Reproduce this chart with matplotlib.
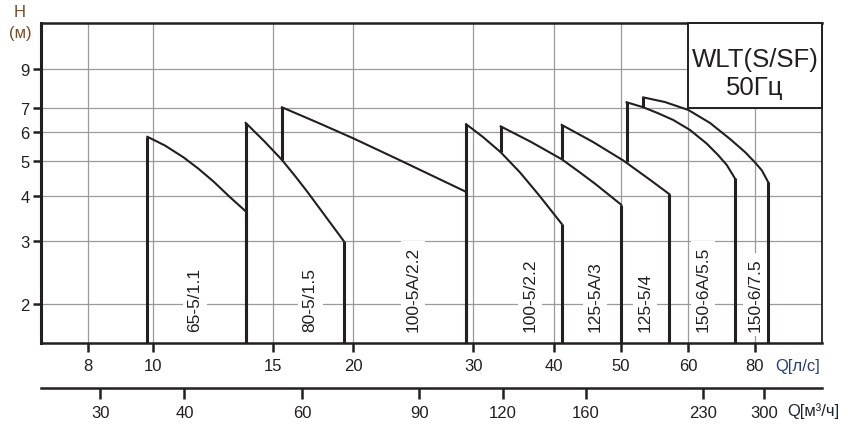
import matplotlib
matplotlib.use("Agg")
import matplotlib.pyplot as plt
import numpy as np
from matplotlib.patches import Rectangle

plt.rcParams['font.family'] = ['Liberation Sans', 'DejaVu Sans']

INK = '#231f20'
GRID = '#9a9a9a'

# printed Q axis is not a clean log scale: tick values and their spacing
q_ticks = [8, 10, 15, 20, 30, 40, 50, 60, 80]
q_tick_pos = [88, 153, 273, 353, 473, 554, 621, 688, 755]
m3h_ticks = [30, 40, 60, 90, 120, 160, 230, 300]
h_ticks = [2, 3, 4, 5, 6, 7, 9]

# pump curves, Q in l/s, H in m
names = ['65-5/1.1', '80-5/1.5', '100-5A/2.2', '100-5/2.2',
         '125-5A/3', '125-5/4', '150-6A/5.5', '150-6/7.5']
curve_q = [
    [9.80, 10.10, 10.41, 11.08, 11.64, 12.26, 12.93, 13.67],
    [13.67, 14.55, 15.48, 16.24, 16.93, 17.97, 19.32],
    [15.48, 17.58, 20.02, 23.31, 29.3],
    [29.3, 31.08, 33.1, 35.45, 37.85, 41.04],
    [33.1, 36.87, 41.04, 43.35, 45.85, 50.0],
    [41.04, 45.55, 50.31, 54.1, 57.03],
    [50.77, 53.13, 55.29, 57.65, 60.52, 65.04, 68.26, 70.87, 73.4],
    [53.13, 56.36, 60.1, 65.95, 71.86, 76.64, 80.0, 82.44, 84.7],
]
curve_h = [
    [5.83, 5.67, 5.51, 5.11, 4.76, 4.38, 3.98, 3.62],
    [6.37, 5.67, 5.03, 4.53, 4.12, 3.57, 3.00],
    [7.04, 6.39, 5.77, 5.04, 4.10],
    [6.32, 5.82, 5.28, 4.64, 4.03, 3.34],
    [6.23, 5.64, 5.05, 4.68, 4.32, 3.78],
    [6.29, 5.64, 5.01, 4.43, 4.04],
    [7.27, 7.04, 6.78, 6.49, 6.09, 5.58, 5.19, 4.87, 4.47],
    [7.50, 7.28, 6.92, 6.37, 5.75, 5.29, 4.95, 4.70, 4.36],
]
# lower end of the left vertical (None = down to the axis)
start_floor = [None, None, 5.03, None, 5.28, 5.05, 4.95, 7.04]
label_q = [11.52, 17.14, 24.49, 36.74, 45.85, 53.38, 64.0, 80.0]

xmin, xmax = 6.8, 106.7
ymin, ymax = 1.56, 12.07
label_h = 1.68

lq = np.log10(q_ticks)
pk = np.array(q_tick_pos, float)
s_lo = (pk[1] - pk[0]) / (lq[1] - lq[0])
s_hi = (pk[-1] - pk[-2]) / (lq[-1] - lq[-2])


def fwd(q):
    x = np.log10(np.clip(np.asarray(q, float), 1e-9, None))
    p = np.interp(x, lq, pk)
    p = np.where(x < lq[0], pk[0] + (x - lq[0]) * s_lo, p)
    p = np.where(x > lq[-1], pk[-1] + (x - lq[-1]) * s_hi, p)
    return p


def inv(p):
    p = np.asarray(p, float)
    x = np.interp(p, pk, lq)
    x = np.where(p < pk[0], lq[0] + (p - pk[0]) / s_lo, x)
    x = np.where(p > pk[-1], lq[-1] + (p - pk[-1]) / s_hi, x)
    return 10 ** x


fig = plt.figure(figsize=(8.48, 4.31), dpi=100)
ax = fig.add_axes([0.0483, 0.2019, 0.9210, 0.7425])
ax.set_xscale('function', functions=(fwd, inv))
ax.set_yscale('log')
ax.set_xlim(xmin, xmax)
ax.set_ylim(ymin, ymax)

ax.set_xticks(q_ticks)
ax.set_xticklabels([str(v) for v in q_ticks])
ax.set_yticks(h_ticks)
ax.set_yticklabels([str(v) for v in h_ticks])
ax.yaxis.set_minor_locator(matplotlib.ticker.NullLocator())
ax.xaxis.set_minor_locator(matplotlib.ticker.NullLocator())

ax.set_axisbelow(True)
ax.grid(True, color=GRID, lw=0.9)

ax.tick_params(axis='x', direction='out', length=6.5, width=1.8, pad=4,
               labelsize=12, labelcolor=INK, color=INK)
ax.tick_params(axis='y', direction='out', length=6, width=1.8, pad=2,
               labelsize=12, labelcolor=INK, color=INK)
for side, lw in (('left', 2.2), ('bottom', 1.8), ('top', 1.8), ('right', 1.3)):
    ax.spines[side].set_linewidth(lw)
    ax.spines[side].set_color(INK)

# curves and boundary lines
for i in range(len(names)):
    q = curve_q[i]
    h = curve_h[i]
    ax.plot(q, h, color=INK, lw=1.5, zorder=3, solid_joinstyle='round')
    lo = ymin if start_floor[i] is None else start_floor[i]
    ax.plot([q[0], q[0]], [lo, h[0]], color=INK, lw=2.2, zorder=3,
            solid_capstyle='butt')
    ax.plot([q[-1], q[-1]], [ymin, h[-1]], color=INK, lw=2.2, zorder=3,
            solid_capstyle='butt')
    ax.text(label_q[i], label_h, names[i], rotation=90, ha='center',
            va='bottom', fontsize=12.5, color=INK, zorder=4,
            bbox=dict(facecolor='white', edgecolor='none', pad=3.5))

# model box
ax.add_patch(Rectangle((60, 7), xmax - 60, ymax - 7, facecolor='white',
                       edgecolor=INK, lw=1.4, zorder=5, clip_on=False))
ax.text(80, 9.58, 'WLT(S/SF)', ha='center', va='center', fontsize=18.5,
        color=INK, zorder=6)
ax.text(80, 8.0, '50Гц', ha='center', va='center', fontsize=18.5,
        color=INK, zorder=6)

# second flow scale in m3/h
ax2 = fig.add_axes([0.0483, 0.0974, 0.9210, 0.0001])
ax2.set_xscale('function', functions=(lambda m: fwd(np.asarray(m) / 3.6),
                                      lambda p: inv(p) * 3.6))
ax2.set_xlim(xmin * 3.6, xmax * 3.6)
ax2.set_xticks(m3h_ticks)
ax2.set_xticklabels([str(v) for v in m3h_ticks])
ax2.xaxis.set_minor_locator(matplotlib.ticker.NullLocator())
ax2.set_yticks([])
ax2.patch.set_visible(False)
for side in ('left', 'right', 'top'):
    ax2.spines[side].set_visible(False)
ax2.spines['bottom'].set_linewidth(1.8)
ax2.spines['bottom'].set_color(INK)
ax2.tick_params(axis='x', direction='out', length=8, width=1.8, pad=4,
                labelsize=12, labelcolor=INK, color=INK)

# axis titles
fig.text(0.0236, 0.970, 'H', ha='center', va='center', fontsize=12,
         color='#7a4a1e')
fig.text(0.0236, 0.923, '(м)', ha='center', va='center', fontsize=12,
         color='#7a4a1e')
fig.text(0.914, 0.1485, 'Q[л/с]', ha='left', va='center', fontsize=12,
         color='#26407a')
fig.text(0.928, 0.0464, 'Q[м³/ч]', ha='left', va='center', fontsize=12,
         color='#1c2230')

fig.savefig('out.png', dpi=100)
